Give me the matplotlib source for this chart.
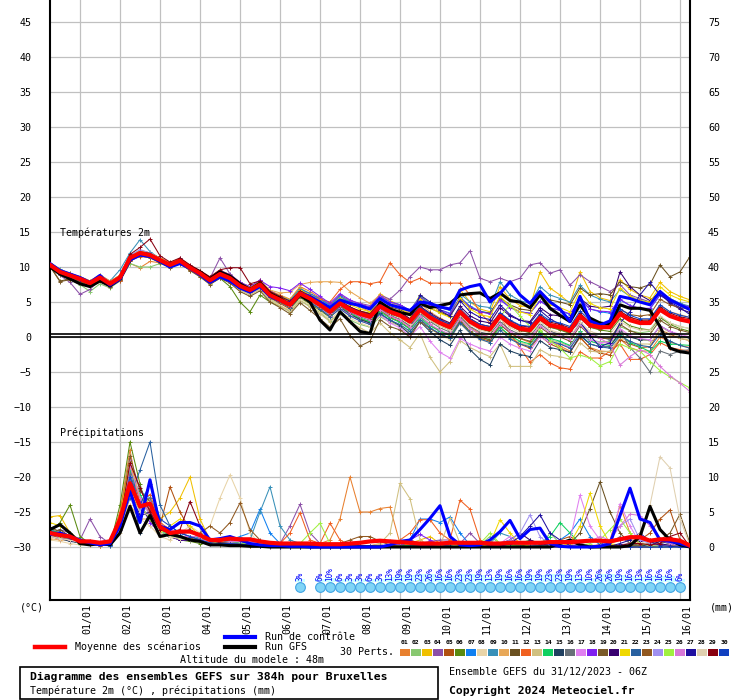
import numpy as np
import matplotlib
matplotlib.use("Agg")
import matplotlib.pyplot as plt
from matplotlib.lines import Line2D
from matplotlib.patches import Rectangle
from matplotlib.transforms import blended_transform_factory

plt.rcParams['font.family'] = ['DejaVu Sans Mono', 'DejaVu Sans']

# ---- data (6h steps from 31/12 06Z, 0..384h) ----
hours = np.arange(0, 385, 6)
DATES = ["01/01", "02/01", "03/01", "04/01", "05/01", "06/01", "07/01", "08/01",
         "09/01", "10/01", "11/01", "12/01", "13/01", "14/01", "15/01", "16/01"]
day_hours = [18 + 24 * k for k in range(16)]

COLORS = ["#e8802f", "#88c870", "#f0c000", "#8c50a8", "#b05010", "#5a8a10", "#1080f0",
          "#e8d4a8", "#3890b8", "#e8a858", "#6a5020", "#f06020", "#d0c080", "#10d060",
          "#204060", "#687078", "#e080f0", "#8020f0", "#7a5a28", "#380070", "#f0d800",
          "#2860a0", "#905820", "#a090f0", "#a0f040", "#d878d8", "#2010a0", "#e0d0b0",
          "#880010", "#1040c0"]

# temperatures 2m (°C), perturbations 01..30
temp_members = [
    [10.6,9.6,9.1,8.6,8.0,8.8,7.9,8.8, 10.5,9.9,10.8,10.6,10.0,10.6,9.6,8.8, 8.6,9.5,8.9,7.8,7.2,8.0,6.6,6.0, 5.4,7.2,6.5,5.6,4.6,5.8,4.9,4.3, 3.6,5.0,4.2,3.5,2.6,4.2,3.0,2.0, 1.0,3.0,1.4,0.5,0.0,1.8,0.6,-0.2, -0.8,0.8,-0.6,-1.3,-2.0,-0.1,-1.5,-2.0, -2.1,-0.3,-1.5,-2.0,-2.0,0.0,-0.7,-1.2, -1.5],
    [10.1,8.9,8.2,7.5,6.5,7.6,7.0,8.0, 10.5,10.0,10.0,10.5,10.0,10.6,9.6,8.8, 7.9,8.9,8.2,7.0,6.2,7.0,5.4,4.5, 3.6,5.2,4.4,3.5,2.3,3.4,2.4,1.8, 1.4,2.9,2.1,1.6,0.6,2.5,1.6,0.9, 0.4,2.6,1.2,0.3,-0.2,1.4,0.0,-0.8, -1.2,0.5,-0.4,-0.8,-1.3,0.8,-0.4,-0.7, -0.6,1.5,0.9,0.6,0.8,2.8,2.0,1.5, 1.2],
    [10.5,9.6,9.0,8.6,8.0,8.8,7.9,8.8, 11.6,12.4,12.0,11.2,10.5,11.2,10.1,9.3, 8.5,9.5,8.9,7.8,7.0,8.1,6.5,5.9, 5.3,7.0,6.2,5.4,4.6,6.0,5.0,4.4, 4.0,6.2,5.2,4.5,3.5,6.0,4.6,3.6, 3.0,6.8,5.0,4.0,3.6,7.2,5.4,4.5, 4.2,9.3,7.0,6.0,4.8,9.3,6.5,5.6, 5.2,8.2,6.8,6.0,5.6,7.8,6.5,5.8, 5.3],
    [10.0,8.8,7.8,6.1,6.8,8.2,7.2,8.0, 11.0,11.8,11.5,10.8,10.0,11.3,10.0,9.2, 8.4,11.3,9.0,7.8,7.0,8.2,6.6,5.8, 5.0,6.8,6.2,5.5,4.6,6.0,5.2,4.8, 4.5,6.0,5.4,6.7,8.6,10.0,9.6,9.6, 10.3,10.6,12.3,8.4,7.9,8.4,7.9,8.4, 10.3,10.6,9.1,9.6,7.4,8.9,7.9,7.2, 6.5,7.5,6.0,5.5,5.0,6.5,5.5,4.8, 4.2],
    [10.2,9.0,8.6,8.0,7.5,8.3,7.4,8.2, 11.0,11.6,11.5,10.8,10.1,10.5,9.6,8.8, 7.8,8.6,8.1,7.0,6.3,7.2,5.6,4.8, 4.0,5.8,5.0,4.0,3.0,4.4,3.3,2.5, 2.0,3.8,2.8,2.2,1.2,3.0,1.8,0.8, 0.2,2.4,0.8,-0.2,-0.6,1.4,0.0,-1.0, -1.6,0.2,-1.0,-1.6,-2.2,0.0,-1.6,-2.3, -2.6,-0.4,-1.0,-1.5,-1.4,1.0,0.4,-0.2, -0.5],
    [10.0,9.0,8.6,8.1,7.5,8.3,7.5,8.3, 11.1,11.8,11.6,10.9,10.1,10.6,9.6,8.7, 7.6,8.4,7.2,5.0,3.6,6.0,5.0,4.4, 3.8,5.6,4.7,3.8,2.8,4.2,3.2,2.6, 2.2,3.8,3.0,2.5,1.6,3.5,2.4,1.6, 1.0,3.4,2.0,1.2,0.8,2.8,1.6,1.0, 0.6,2.4,1.4,1.0,0.5,2.8,1.4,1.0, 0.8,2.6,1.6,1.2,1.0,2.8,1.8,1.2, 0.8],
    [10.4,9.5,9.1,8.5,7.9,8.7,7.8,8.7, 11.5,12.3,12.0,11.2,10.6,11.2,10.2,9.4, 8.4,9.3,8.7,7.6,7.0,7.9,6.4,5.8, 5.2,6.9,6.2,5.4,4.5,5.8,5.0,4.5, 4.2,5.8,5.0,4.6,3.8,5.6,4.6,3.9, 3.4,5.7,4.4,3.7,3.4,5.4,4.3,3.6, 3.4,5.2,4.2,3.8,3.2,5.4,4.0,3.6, 3.4,5.3,4.5,4.0,4.0,6.0,5.2,4.6, 4.2],
    [10.2,9.2,8.6,8.0,7.4,8.2,7.3,8.1, 11.0,11.8,11.5,10.7,10.0,10.6,9.6,8.7, 7.7,8.6,7.9,6.8,6.1,6.9,5.3,4.5, 3.8,5.4,4.6,3.6,2.5,3.7,2.7,2.0, 1.5,3.1,2.2,1.6,0.6,2.4,1.2,0.3, -0.4,1.9,0.5,-0.4,-0.8,1.2,0.0,-0.8, -1.2,0.6,-0.5,-0.9,-1.5,0.8,-0.6,-1.0, -1.0,1.0,0.1,-0.4,-0.5,1.5,0.6,0.0, -0.4],
    [10.6,9.7,9.0,8.5,7.9,8.8,8.0,9.6, 12.0,13.9,12.2,11.2,10.4,11.0,10.0,9.3, 8.3,9.2,8.6,7.5,6.9,7.8,6.3,5.6, 5.0,6.7,6.0,5.2,4.3,5.7,4.8,4.3, 4.0,5.9,5.0,4.6,3.8,5.8,4.8,4.2, 3.8,6.2,5.0,4.4,4.2,7.9,6.0,5.2, 4.8,7.2,6.0,5.5,5.0,7.4,6.0,5.4, 5.0,6.8,5.8,5.2,5.0,6.5,5.5,4.8, 4.4],
    [10.4,9.4,9.0,8.6,8.0,8.9,8.0,8.8, 11.5,12.1,11.8,11.1,10.5,11.0,10.0,9.3, 8.4,9.3,8.7,7.7,7.1,8.0,6.7,6.3, 6.4,7.5,7.8,7.9,7.9,7.8,6.5,5.6, 4.8,6.0,5.0,4.3,3.3,4.8,3.6,2.7, 2.0,4.0,2.6,1.8,1.4,3.3,2.0,1.3, 1.0,2.8,1.8,1.5,1.0,3.2,2.0,1.6, 1.6,3.6,2.8,2.4,2.5,4.5,3.6,3.2, 2.8],
    [10.1,8.0,8.3,8.0,7.6,8.4,7.5,8.4, 11.2,11.9,11.5,10.8,10.1,10.8,9.8,9.0, 8.0,8.9,8.3,7.2,6.6,7.4,5.9,5.2, 4.5,6.2,5.5,4.7,3.7,5.0,4.2,3.7, 3.4,5.0,4.3,3.9,3.2,5.0,4.1,3.5, 3.0,5.4,4.2,3.6,3.4,5.6,4.6,4.0, 3.8,6.2,5.3,5.0,4.6,7.0,6.0,6.2, 6.0,7.9,7.2,7.0,7.5,10.3,8.6,9.3, 11.5],
    [10.3,9.4,8.8,8.4,7.8,8.6,7.7,8.0, 10.9,11.5,11.4,10.8,10.2,10.8,9.8,9.0, 8.0,8.9,8.3,7.2,6.6,7.5,6.1,5.4, 4.8,6.5,5.8,5.4,5.0,6.8,7.9,7.9, 7.6,7.9,10.6,8.9,7.8,8.4,7.7,7.7, 7.7,7.7,6.0,3.5,2.0,3.0,0.5,-1.5, -3.6,-2.5,-3.7,-4.4,-4.6,-2.1,-3.0,-3.0, -2.0,-1.0,-3.2,-3.2,-2.5,-0.8,-1.5,-1.8, -2.0],
    [10.2,9.2,8.7,8.2,7.6,8.3,7.4,8.3, 11.0,11.7,11.4,10.7,10.0,10.5,9.5,8.6, 7.6,8.5,7.8,6.7,6.0,6.8,5.2,4.4, 3.6,5.2,4.3,3.3,2.2,3.4,2.2,1.3, 0.6,2.0,0.6,-0.4,-1.5,0.5,-2.9,-5.0, -3.5,-0.5,-1.5,-2.2,-2.8,-1.0,-4.2,-4.2, -4.2,-1.8,-2.6,-2.8,-3.2,-0.8,-2.0,-2.2, -2.0,0.0,-0.8,-1.0,-1.0,1.0,0.2,-0.2, -0.5],
    [10.3,9.3,8.9,8.4,7.8,8.6,7.7,8.6, 11.4,12.1,11.8,11.1,10.4,11.0,10.0,9.2, 8.2,9.1,8.5,7.4,6.8,7.6,6.1,5.3, 4.5,6.0,5.2,4.2,3.2,4.4,3.4,2.7, 2.2,3.6,2.7,2.1,1.1,2.8,1.6,0.8, 0.2,2.2,0.8,0.0,-0.4,1.4,0.2,-0.6, -1.0,0.8,-0.2,-0.6,-1.2,0.8,-0.6,-1.0, -1.2,0.4,-0.8,-1.4,-2.1,-0.6,-1.0,-1.1, -1.2],
    [10.2,9.2,8.6,8.1,7.5,8.3,7.4,8.3, 11.1,11.8,11.5,10.8,10.1,10.7,9.7,8.9, 7.9,8.8,8.1,7.0,6.4,7.2,5.7,5.0, 4.2,5.8,5.0,4.0,3.0,4.2,3.2,2.5, 2.0,3.4,2.4,1.6,0.4,2.2,0.8,-0.4, -1.2,1.0,-1.8,-3.2,-4.0,-1.0,-2.0,-2.5, -2.8,-0.5,-1.5,-1.8,-2.2,0.2,-1.0,-1.4, -1.4,0.8,0.0,-0.4,-0.4,1.6,0.8,0.2, -0.2],
    [10.4,9.4,8.9,8.3,7.7,8.5,7.6,8.6, 11.4,12.1,11.8,11.1,10.4,11.0,10.0,9.2, 8.1,9.0,8.4,7.3,6.6,7.4,5.9,5.2, 4.4,6.0,5.3,4.3,3.3,4.5,3.5,2.9, 2.4,4.0,3.1,2.5,1.5,3.3,2.2,1.3, 0.7,2.9,1.5,0.7,0.4,2.2,1.0,0.4, 0.1,1.9,0.8,0.4,-0.2,2.0,0.5,0.0, -0.4,1.0,-1.5,-3.0,-5.0,-2.0,-2.5,-2.0, -1.8],
    [10.3,9.2,8.7,8.2,7.6,8.4,7.5,8.4, 11.2,12.0,11.6,10.9,10.2,10.8,9.8,9.0, 8.0,8.9,8.2,7.1,6.5,7.3,5.8,5.0, 4.3,5.9,5.1,4.1,3.0,4.1,3.1,2.3, 1.8,3.2,2.0,1.3,0.1,1.5,-0.6,-2.2, -3.0,-0.2,-1.0,-1.6,-2.0,0.0,-1.0,-1.6, -2.0,0.0,-0.8,-1.0,-1.4,0.6,-0.4,-0.8, -0.8,1.2,0.2,-0.2,-0.4,1.6,0.8,0.4, 0.0],
    [10.5,9.5,9.0,8.5,7.9,8.8,7.9,8.8, 11.6,12.3,12.0,11.3,10.6,11.2,10.2,9.4, 8.5,9.5,8.9,7.8,7.2,8.1,7.2,7.0, 6.6,7.7,6.8,5.8,4.8,6.2,5.3,4.7, 4.3,5.9,5.0,4.6,3.8,5.6,4.6,3.9, 3.3,5.6,4.3,3.6,3.3,5.3,4.2,3.6, 3.4,5.1,4.2,3.8,3.3,5.4,4.0,3.7, 3.6,5.4,4.5,4.1,4.1,6.0,5.1,4.6, 4.3],
    [10.1,7.9,8.2,7.9,7.3,8.1,7.2,8.1, 10.9,11.6,11.3,10.6,9.9,10.5,9.5,8.6, 7.5,8.4,7.7,6.5,5.8,6.6,5.0,4.2, 3.3,4.9,3.8,2.6,1.4,2.6,0.2,-1.3, -0.6,2.5,1.5,1.0,0.0,2.2,1.2,0.4, -0.2,2.2,0.8,0.0,-0.4,1.8,0.6,-0.2, -0.6,1.4,0.4,0.0,-0.6,1.6,0.2,-0.2, -0.2,1.8,0.9,0.4,0.4,2.4,1.5,1.0, 0.6],
    [10.3,9.4,8.9,8.4,7.8,8.6,7.7,8.6, 11.3,12.0,11.7,11.0,10.4,10.9,9.9,9.1, 8.1,9.0,8.4,7.3,6.7,7.5,6.0,5.3, 4.6,6.3,5.6,4.7,3.8,5.1,4.2,3.6, 3.2,4.8,4.0,3.5,2.6,4.4,3.4,2.6, 2.0,4.4,3.0,2.3,2.0,4.2,3.0,2.4, 2.2,4.2,3.2,3.0,2.8,5.5,4.4,4.2, 4.4,9.3,7.2,6.0,5.2,6.4,4.8,4.0, 3.5],
    [10.6,9.6,9.1,8.6,8.0,8.8,7.9,8.8, 11.6,12.3,12.0,11.3,10.6,11.2,10.2,9.4, 8.4,9.3,8.7,7.6,7.0,7.9,6.4,5.7, 5.0,6.7,6.0,5.2,4.2,5.6,4.6,4.0, 3.6,5.6,4.6,4.1,3.2,5.4,4.2,3.4, 2.8,5.6,4.0,3.2,2.9,5.8,4.4,3.6, 3.2,6.0,4.6,4.2,3.6,6.6,4.8,4.2, 4.0,7.0,5.8,5.2,5.0,7.2,6.0,5.4, 5.0],
    [10.2,9.1,8.7,8.2,7.6,8.4,7.5,8.4, 11.2,11.9,11.6,10.9,10.2,10.8,9.8,9.0, 8.0,8.9,8.3,7.2,6.5,7.3,5.8,5.0, 4.2,5.8,5.0,4.0,2.9,4.0,3.0,2.3, 1.8,3.3,2.4,1.8,0.8,2.5,1.3,0.5, -0.2,2.0,0.6,-0.3,-0.8,1.0,-0.3,-1.0, -1.4,0.4,-0.6,-1.0,-1.6,0.4,-1.0,-1.4, -1.6,0.2,-0.6,-1.2,-1.4,0.4,-0.6,-1.2, -1.6],
    [10.0,9.0,8.5,8.0,7.4,8.2,7.3,8.2, 11.0,11.7,11.4,10.7,10.0,10.6,9.6,8.8, 7.8,8.7,8.1,7.0,6.4,7.2,5.7,5.0, 4.3,5.9,5.2,4.3,3.3,4.5,3.6,3.0, 2.6,4.1,3.3,2.8,1.9,3.6,2.5,1.7, 1.1,3.3,1.9,1.1,0.8,2.7,1.6,0.9, 0.7,2.4,1.4,1.1,0.6,2.7,1.4,1.1, 1.4,4.0,3.2,3.0,3.2,5.4,4.6,4.2, 4.0],
    [10.4,9.4,8.9,8.4,7.8,8.6,7.7,8.6, 11.6,12.5,12.0,11.2,10.5,11.1,10.1,9.3, 8.3,9.2,8.6,7.5,6.9,7.7,6.2,5.5, 4.8,6.4,5.7,4.8,3.8,5.0,4.1,3.5, 3.1,4.6,3.8,3.3,2.4,4.1,3.0,2.2, 1.6,3.8,2.4,1.6,1.3,3.2,2.1,1.4, 1.2,2.9,1.9,1.6,1.1,3.2,1.9,1.6, 1.6,3.5,2.6,2.2,2.2,4.1,3.2,2.7, 2.4],
    [10.3,9.3,8.8,8.3,7.7,8.5,7.6,8.5, 11.2,11.9,11.6,10.9,10.2,10.8,9.8,9.0, 8.0,8.9,8.3,7.2,6.6,7.4,5.9,5.2, 4.5,6.1,5.4,4.5,3.5,4.7,3.8,3.2, 2.8,4.3,3.5,3.0,2.1,3.8,2.7,1.9, 1.3,3.5,2.1,1.3,1.0,2.9,4.6,3.0, 1.5,1.0,-0.5,-1.6,-3.0,-2.6,-3.0,-4.1, -3.5,-1.0,-1.6,-2.0,-3.5,-4.8,-5.7,-6.5, -7.3],
    [10.2,9.2,8.7,8.2,7.6,8.4,7.5,8.4, 11.4,12.2,11.8,11.1,10.3,10.9,9.9,9.1, 8.1,9.0,8.4,7.3,6.7,7.5,6.0,5.3, 4.5,6.1,5.4,4.4,3.4,4.6,3.6,3.0, 2.5,3.9,3.0,2.4,1.4,3.0,1.8,1.0, 0.4,2.6,1.2,0.4,0.0,1.9,0.8,0.1, -0.2,1.6,0.6,0.2,-0.3,1.8,0.4,-0.2, -1.0,-4.0,-2.8,-1.8,-2.5,-4.2,-5.5,-6.6, -7.8],
    [10.3,9.3,8.8,8.2,7.6,8.4,7.5,8.4, 11.3,12.0,11.7,11.0,10.3,10.9,9.9,9.1, 8.1,9.0,8.4,7.3,6.7,7.5,6.0,5.3, 4.6,6.2,5.5,4.6,3.6,4.8,3.9,3.3, 2.9,4.4,3.6,3.1,2.2,6.0,5.0,3.8, 3.0,5.2,3.6,2.8,2.5,4.6,3.2,2.4, 2.0,3.8,2.6,1.8,0.8,2.2,0.2,-1.4, -0.8,2.0,3.6,6.0,7.8,6.0,5.0,4.2, 3.2],
    [10.4,9.4,9.0,8.5,8.0,8.8,7.8,8.7, 11.4,12.1,11.8,11.1,10.4,11.0,10.0,9.2, 8.2,9.1,8.5,7.4,6.8,7.6,6.1,5.4, 4.7,6.3,5.6,4.7,3.7,4.9,4.0,3.4, 3.0,4.4,3.5,2.9,1.9,3.6,2.4,1.6, 1.0,3.2,1.8,1.0,0.6,2.6,1.4,0.6, 0.4,2.2,1.0,0.6,0.0,2.2,0.8,0.4, 0.4,2.2,1.4,1.0,1.0,3.0,2.0,1.5, 1.2],
    [10.5,9.5,9.0,8.5,7.9,8.7,7.8,8.7, 11.8,12.8,14.0,11.6,10.7,11.3,10.3,9.5, 8.6,9.6,9.9,9.9,7.6,8.0,6.5,5.8, 5.1,6.6,5.9,5.0,4.0,5.2,4.3,3.7, 3.3,4.8,4.0,3.5,2.6,4.3,3.2,2.4, 1.8,4.0,2.6,1.8,1.5,3.4,2.3,1.6, 1.4,3.1,2.1,1.8,1.3,3.4,2.1,1.8, 1.8,3.7,2.8,2.4,2.4,4.3,3.4,2.9, 2.6],
    [10.4,9.4,8.9,8.4,7.8,8.6,7.7,8.6, 11.4,12.1,11.8,11.1,10.4,11.0,10.0,9.2, 8.2,9.1,8.5,7.4,6.8,7.6,6.1,5.4, 4.7,6.3,5.6,4.7,3.7,5.0,4.1,3.5, 3.1,4.7,3.9,3.4,2.5,4.3,3.2,2.4, 1.8,4.0,2.6,1.8,1.5,3.5,2.4,1.7, 1.5,3.3,2.3,2.0,1.5,3.7,2.4,2.0, 2.0,4.0,3.1,2.6,2.6,4.6,3.6,3.1, 2.8],
]
temp_mean = [10.3,9.3,8.8,8.3,7.7,8.5,7.6,8.5, 11.3,12.0,11.7,11.0,10.3,10.9,9.9,9.1, 8.1,9.0,8.4,7.3,6.7,7.5,6.0,5.3,
             4.6,6.2,5.5,4.6,3.6,4.8,3.9,3.3, 2.9,4.4,3.6,3.1,2.2,3.9,2.8,2.0, 1.4,3.6,2.2,1.4,1.1,3.0,1.9,1.2,
             1.0,2.7,1.7,1.4,0.9,3.0,1.7,1.4, 1.4,3.3,2.4,2.0,2.0,3.9,3.0,2.5, 2.2]
temp_gfs = [10.0,9.0,8.3,7.6,7.2,8.0,7.3,8.3, 11.0,12.0,11.8,10.8,10.2,11.0,10.0,9.3, 8.3,9.3,8.7,7.6,6.8,7.7,6.2,5.5,
            4.6,6.0,5.0,2.4,1.0,3.6,2.2,0.8, 0.5,5.0,4.0,3.5,3.2,4.8,4.2,4.5, 4.8,6.0,6.2,6.3,5.5,6.3,5.2,5.0,
            4.2,6.0,4.1,3.1,2.2,4.6,2.7,2.0, 1.8,4.6,4.1,4.1,3.8,1.5,-1.6,-2.1, -2.3]
temp_ctrl = [10.5,9.5,9.0,8.5,7.8,8.8,7.4,8.3, 11.0,11.7,11.5,10.8,10.0,10.5,9.8,8.9, 7.8,8.6,8.0,7.0,6.4,7.2,5.8,5.2,
             4.8,6.2,5.8,5.0,4.2,5.3,4.8,4.5, 4.0,5.5,4.6,4.2,3.8,5.0,4.8,4.3, 4.0,6.7,7.2,7.5,5.0,6.2,7.9,6.0,
             4.8,6.5,5.0,4.0,2.2,5.8,2.3,1.7, 2.3,5.8,5.5,5.0,4.6,6.5,5.3,4.6, 3.9]

# precipitation (mm / 6h), perturbations 01..30
precip_members = [
    [2.0,1.5,1.0,0.5,0.3,0.2,0.5,5.0,13.9,6.0,4.0,2.0,1.5,1.0,1.2,1.0,0.5,0.3,0.5,0.3,0.2, 0.1,0.1,0.0,0.0,0.2,0.3,0.5,1.0,4.0,10.0,5.0, 5.0,5.5,5.7,0.5,0.2,0.1,0.0,0.0,0.1,0.2,0.1, 0.0,0.0,0.1,0.2,0.1,0.0,0.0,0.1,0.1,0.2,0.3, 0.2,0.3,1.0,5.9,2.0,0.3,0.2,0.1,0.2,0.1,0.0],
    [1.5,1.2,1.0,0.5,0.5,0.5,0.8,4.0,9.0,6.0,5.0,2.5,2.0,1.5,1.5,1.0,0.8,0.5,1.0,0.5,0.3, 0.2,0.2,0.1,0.1,0.0,0.0,0.0,0.1,0.1,0.0,0.0, 0.0,0.1,0.2,0.1,0.0,0.0,0.0,0.0,0.1,0.0,0.0, 0.3,1.5,0.5,0.2,0.0,0.0,0.0,2.0,0.5,0.1,0.0, 0.0,0.1,0.2,0.3,0.2,0.1,0.1,0.0,0.0,0.1,0.0],
    [4.3,4.5,2.0,1.0,0.5,0.5,0.5,3.5,8.0,5.0,7.0,4.0,5.0,7.0,10.0,4.0,1.0,0.8,0.5,0.5,0.2, 0.2,0.1,0.1,0.0,0.0,0.1,0.1,0.0,0.0,0.0,0.0, 0.1,0.2,0.1,0.0,0.5,1.0,1.5,0.5,0.0,0.0,0.0, 0.0,0.1,0.2,0.1,0.0,0.0,0.0,0.0,0.1,0.2,0.5, 1.0,0.5,0.2,0.1,0.0,0.0,0.1,0.2,0.1,0.0,0.0],
    [1.8,2.5,2.0,1.0,4.0,1.5,0.5,3.0,10.0,7.0,5.0,2.0,1.5,1.0,1.0,1.2,0.5,0.5,0.8,0.4,1.0, 0.5,0.2,0.5,3.0,6.1,2.0,0.5,0.2,0.1,0.0,0.0, 0.0,0.1,0.1,0.0,0.2,0.5,0.8,1.0,1.0,0.5,2.0, 0.5,0.2,0.3,1.0,0.3,0.0,0.0,0.1,0.0,0.0,0.1, 0.2,0.1,0.0,0.3,0.5,0.2,0.0,0.0,0.1,0.0,0.0],
    [2.5,2.0,1.0,0.5,0.3,0.2,0.3,3.0,11.0,7.0,6.0,3.0,8.6,5.0,2.5,1.5,0.8,0.5,0.5,0.3,0.2, 0.1,0.0,0.0,0.0,0.1,0.0,0.0,0.0,0.1,0.2,0.1, 0.0,0.0,0.0,0.1,0.2,0.1,0.0,0.0,0.0,0.0,0.0, 0.0,0.1,0.1,0.0,0.0,0.0,0.2,0.5,1.0,1.5,0.5, 0.2,0.1,0.0,0.1,0.3,1.0,2.0,4.0,5.3,1.0,0.0],
    [2.0,3.5,6.0,1.5,0.5,0.3,0.2,6.0,15.0,9.0,4.0,2.0,1.5,1.0,0.8,0.5,0.5,0.3,0.5,0.5,0.3, 0.2,0.1,0.0,0.0,0.0,0.1,0.2,0.1,0.0,0.0,0.0, 0.0,0.0,0.1,0.0,0.0,0.0,0.2,0.3,0.1,0.0,0.0, 0.0,0.0,0.0,0.1,0.2,0.1,0.0,0.0,0.0,0.0,0.1, 0.2,0.0,0.0,0.0,0.1,0.2,0.1,0.0,0.0,0.0,0.0],
    [2.2,1.8,1.2,0.8,0.5,0.3,0.2,4.5,12.0,5.0,6.0,3.0,2.0,1.5,2.5,1.5,1.0,0.5,1.0,1.5,2.0, 5.4,2.0,0.5,0.2,0.1,0.0,0.0,0.1,0.2,0.1,0.0, 0.0,0.1,0.0,0.0,1.0,4.0,4.0,3.5,4.3,2.0,0.3, 0.0,0.0,0.1,0.0,0.0,0.2,0.5,0.3,1.0,2.0,4.0, 1.5,0.3,0.2,0.1,0.0,0.1,0.2,0.1,0.0,0.0,0.0],
    [1.0,0.8,0.5,0.3,0.3,0.3,0.3,2.0,7.0,4.0,3.0,1.5,1.0,2.0,3.0,2.0,3.0,7.0,10.3,7.0,2.0, 0.5,0.3,0.1,0.0,0.0,0.0,0.1,0.2,0.1,0.0,0.0, 0.0,0.0,0.0,0.1,0.0,0.0,0.0,0.0,0.2,0.1,0.0, 0.0,0.0,0.0,0.0,0.1,0.1,0.0,0.0,0.0,0.2,0.3, 0.1,0.0,0.0,0.1,0.2,0.5,1.0,0.5,0.2,0.0,0.0],
    [2.5,2.0,1.5,1.0,0.8,0.5,0.5,4.0,10.0,8.0,7.0,3.0,2.0,1.5,1.0,1.5,1.0,1.0,0.8,0.5,1.0, 5.0,8.6,3.0,1.0,0.5,0.2,0.1,0.0,0.0,0.1,0.2, 0.1,0.0,0.0,0.0,0.2,0.5,0.3,0.2,0.1,0.0,0.0, 0.0,0.5,2.0,1.5,0.5,0.2,0.0,0.0,0.1,0.0,0.0, 0.0,0.1,0.2,0.1,0.0,0.0,0.0,0.1,0.1,0.0,0.0],
    [1.2,1.0,1.0,0.8,0.6,0.5,0.5,2.5,6.0,4.0,4.0,2.0,1.5,1.2,1.0,1.0,0.6,0.5,0.5,0.5,0.5, 0.3,0.2,0.1,0.1,0.0,0.0,0.0,0.0,0.1,0.2,0.1, 0.2,0.5,0.8,0.5,1.0,0.5,0.2,0.1,0.0,0.0,0.1, 0.1,0.0,0.0,0.0,0.0,0.1,0.2,0.1,0.0,0.0,0.0, 0.0,0.2,0.5,1.0,1.5,0.5,0.2,0.5,1.0,0.5,0.0],
    [2.0,2.5,1.5,1.0,0.5,0.3,0.3,3.0,8.0,4.5,5.0,2.0,1.5,2.0,2.5,1.5,0.5,0.5,0.5,0.3,0.3, 0.2,0.1,0.0,0.0,0.0,0.0,0.1,0.0,0.0,0.0,0.0, 0.0,0.0,0.1,0.2,0.1,0.0,0.0,0.0,0.0,0.0,0.1, 0.0,0.0,0.0,0.0,0.1,0.2,0.1,0.0,0.0,0.5,2.0, 5.5,9.3,5.0,2.0,0.5,0.2,0.1,0.0,0.0,0.0,0.0],
    [1.5,1.2,1.0,0.5,0.5,0.3,0.3,5.0,12.0,6.5,7.5,3.5,2.5,1.5,1.0,0.8,0.6,0.5,0.5,0.5,0.5, 0.5,0.3,0.5,2.0,4.9,1.0,0.5,3.4,1.0,0.2,0.1, 0.0,0.1,0.3,1.0,2.0,3.9,3.9,2.0,1.0,6.7,5.4, 1.0,0.2,0.1,0.0,0.0,0.1,0.0,0.0,0.1,0.0,0.0, 0.1,0.2,0.1,0.0,0.0,0.1,0.0,0.0,0.0,0.1,0.0],
    [1.8,1.5,1.2,0.8,0.5,0.5,0.5,3.5,9.5,5.5,6.0,2.5,1.5,1.5,1.0,1.0,0.5,0.5,0.5,0.3,0.3, 0.2,0.1,0.0,0.0,0.0,0.1,0.1,0.0,0.0,0.0,0.0, 0.1,0.5,2.0,9.1,6.9,1.0,0.2,0.1,4.1,0.5,0.1, 0.0,0.0,0.0,0.1,0.0,0.0,0.0,0.0,0.0,0.1,0.1, 0.0,0.0,0.0,0.1,0.2,0.1,0.0,0.0,0.0,0.0,0.0],
    [2.3,2.0,1.0,0.5,0.4,0.3,0.3,4.0,11.0,7.5,5.0,2.0,2.0,1.5,1.5,1.0,0.6,0.5,0.8,0.5,0.3, 0.2,0.1,0.0,0.0,0.1,0.0,0.0,0.0,0.1,0.1,0.0, 0.0,0.0,0.0,0.1,0.2,0.1,0.0,0.0,0.0,0.1,0.0, 0.0,0.0,0.1,0.2,0.5,1.0,0.5,1.5,3.5,2.0,0.5, 0.1,0.0,0.0,0.1,0.2,0.1,0.0,0.0,0.1,0.0,0.0],
    [1.5,1.2,0.8,0.6,0.5,0.5,0.4,2.5,9.0,2.0,5.0,2.0,1.5,1.0,1.0,0.8,0.5,0.5,0.5,0.3,0.3, 0.1,0.1,0.0,0.0,0.0,0.0,0.0,0.1,0.0,0.0,0.0, 0.0,0.0,0.0,0.0,0.1,0.0,0.0,0.0,0.0,0.0,0.0, 0.1,0.2,0.1,0.0,0.0,0.0,0.0,0.0,0.0,0.1,0.2, 0.1,0.0,0.0,0.0,0.0,0.1,0.3,0.8,0.5,0.1,0.0],
    [2.0,1.8,1.2,0.8,0.5,0.3,0.3,3.5,10.5,6.0,7.0,2.5,2.0,1.5,1.0,1.0,0.5,0.5,0.5,0.5,0.3, 0.2,0.1,0.1,0.0,0.0,0.0,0.0,0.0,0.0,0.1,0.2, 0.2,0.1,0.0,0.5,1.0,0.5,0.2,0.0,0.0,0.0,0.0, 0.0,0.1,0.0,0.0,0.0,0.0,0.1,0.2,0.1,0.0,0.0, 0.0,0.2,0.5,1.5,0.5,0.1,0.0,0.2,0.5,1.0,0.0],
    [1.8,1.5,1.0,0.8,0.6,0.5,0.5,3.0,12.5,7.0,4.5,2.5,2.5,2.0,1.5,1.0,0.8,0.5,0.6,0.5,0.5, 0.3,0.2,0.1,0.1,0.0,0.0,0.1,0.0,0.0,0.0,0.0, 0.0,0.1,0.2,0.1,0.0,0.0,0.0,0.1,0.0,0.0,0.0, 0.0,0.2,0.5,1.5,0.5,0.2,0.1,0.0,0.0,1.0,7.4, 3.0,1.0,0.5,6.2,3.0,0.5,0.2,0.1,0.0,0.0,0.0],
    [2.0,1.5,1.0,0.6,0.5,0.4,0.3,2.5,8.5,6.5,3.5,2.0,1.5,1.0,1.0,0.8,0.6,0.5,0.5,0.3,0.3, 0.2,0.1,0.0,0.0,0.1,0.2,0.1,0.0,0.0,0.0,0.1, 0.1,0.0,0.2,0.5,1.0,1.8,1.0,0.3,0.1,0.0,0.0, 0.2,0.5,0.2,0.1,0.0,0.0,0.1,0.0,0.0,0.0,0.0, 0.0,0.1,0.2,0.1,0.0,0.0,0.1,0.0,0.0,0.1,0.0],
    [2.8,2.2,1.5,0.8,0.5,0.3,0.3,4.0,13.0,8.0,6.5,3.0,2.0,1.5,1.2,0.8,0.6,0.5,0.5,0.5,0.3, 0.2,0.1,0.1,0.0,0.0,0.0,0.0,0.0,0.1,0.0,0.0, 0.0,0.0,0.1,0.0,0.0,0.0,0.0,0.1,0.1,0.0,0.0, 0.0,0.0,0.0,0.1,0.0,0.0,0.0,0.1,0.2,0.1,0.0, 0.0,0.1,0.0,0.0,0.2,0.3,0.5,1.0,2.0,4.7,0.5],
    [1.5,1.3,1.0,0.6,0.5,0.5,0.3,3.0,9.0,5.5,4.0,3.0,2.0,1.0,1.0,0.8,0.5,0.5,0.5,0.3,0.3, 0.1,0.0,0.0,0.0,0.0,0.1,0.0,0.0,0.0,0.0,0.0, 0.0,0.0,0.0,0.0,0.1,0.2,0.1,0.0,0.0,0.0,0.0, 0.0,0.2,0.5,1.0,2.0,1.0,0.5,0.2,0.0,0.0,0.0, 0.1,0.3,1.0,1.2,1.0,0.8,1.0,0.5,0.2,0.0,0.0],
    [3.5,3.0,2.0,1.0,0.5,0.3,0.3,4.5,12.0,7.0,5.0,2.0,3.0,4.0,3.0,1.5,0.8,0.5,0.5,0.5,0.3, 0.2,0.1,0.0,0.0,0.0,0.0,0.0,0.1,0.0,0.0,0.0, 0.0,0.0,0.1,0.0,0.0,0.0,0.0,0.2,0.5,0.2,0.0, 0.0,0.5,3.9,2.0,0.5,0.1,0.0,0.0,0.1,0.5,3.0, 7.7,3.0,0.5,0.2,0.1,0.0,0.0,0.0,0.1,0.0,0.0],
    [2.0,1.8,1.2,0.8,0.5,0.4,0.4,3.5,7.0,11.0,15.0,6.0,3.0,2.0,1.5,1.0,0.5,0.5,0.5,0.5,0.3, 0.2,0.1,0.1,0.0,0.0,0.0,0.0,0.0,0.0,0.0,0.1, 0.2,0.1,0.0,0.0,0.0,0.0,0.0,0.0,0.0,0.1,0.0, 0.0,0.0,0.0,0.0,0.0,0.1,0.2,0.1,0.0,0.0,0.0, 0.0,0.0,0.1,0.2,0.1,0.0,0.0,0.0,0.0,0.0,0.0],
    [1.6,1.4,1.0,0.8,0.5,0.5,0.5,3.0,9.5,6.0,5.5,2.5,2.0,1.5,1.0,2.0,3.0,2.0,3.5,6.3,2.5, 1.0,0.5,0.2,0.1,0.0,0.0,0.1,0.2,0.5,1.0,1.5, 1.5,0.8,0.3,0.1,0.0,0.0,0.0,0.0,0.1,0.0,0.0, 0.0,0.0,0.1,0.0,0.0,0.0,0.0,0.1,0.0,0.0,0.0, 0.0,0.1,0.2,0.1,0.0,0.0,0.0,0.1,0.0,0.0,0.0],
    [1.8,1.5,1.2,0.8,0.5,0.4,0.3,3.5,10.0,5.5,6.5,3.0,2.0,1.5,1.0,0.8,0.5,0.5,0.5,0.5,0.3, 0.2,0.1,0.0,0.0,0.0,0.0,0.0,0.0,0.1,0.1,0.0, 0.0,0.0,0.0,0.1,0.0,0.0,0.0,0.0,0.0,0.0,0.0, 0.2,0.5,0.5,1.0,2.0,4.6,1.5,0.3,0.1,0.0,0.0, 0.0,0.2,1.0,3.0,4.0,1.0,0.5,0.2,0.1,0.0,0.0],
    [2.0,1.5,1.2,1.0,0.5,0.5,0.5,3.5,8.5,6.0,4.0,2.0,1.5,1.2,1.0,0.8,0.5,0.5,0.5,0.5,0.5, 0.3,0.2,0.1,0.1,0.5,2.0,3.4,0.5,0.2,0.1,0.0, 0.0,0.0,0.0,0.1,0.0,0.0,0.0,0.0,0.1,0.0,0.0, 0.5,2.0,0.5,0.2,0.0,0.0,0.0,0.1,0.0,0.0,0.2, 0.5,1.0,2.5,4.0,2.0,0.5,0.2,0.1,0.0,0.0,0.0],
    [1.5,1.2,1.0,0.8,0.8,0.8,1.0,3.0,11.5,7.0,5.0,2.5,2.0,1.5,1.5,1.5,1.2,1.0,0.8,0.8,0.8, 0.5,0.5,0.3,0.2,0.1,0.0,0.0,0.0,0.1,0.0,0.0, 0.0,0.0,0.0,0.0,0.1,0.0,0.0,0.0,0.0,0.1,0.0, 0.0,0.0,0.0,0.1,0.0,0.0,0.0,0.0,0.1,0.2,0.5, 0.8,1.5,1.0,3.0,4.7,4.5,3.0,1.0,0.5,0.2,0.0],
    [1.8,1.6,1.2,0.8,0.5,0.4,0.3,3.0,8.0,4.5,5.0,2.5,2.0,1.5,1.0,1.0,0.5,0.5,0.5,0.4,0.3, 0.2,0.1,0.0,0.0,0.0,0.0,0.0,0.0,0.0,0.1,0.1, 0.0,0.0,0.0,0.0,0.0,0.1,0.2,0.1,0.0,0.0,0.0, 0.0,0.0,0.1,0.5,1.5,3.0,4.6,2.0,1.0,0.2,0.0, 0.0,0.0,0.1,0.5,1.0,2.0,0.8,0.2,0.1,0.0,0.0],
    [1.5,1.2,1.0,0.6,0.5,0.4,0.3,2.5,7.5,5.0,4.5,2.0,1.5,1.2,1.0,0.8,0.5,0.5,0.5,0.3,0.3, 0.1,0.0,0.0,0.0,0.0,0.0,0.1,0.0,0.0,0.0,0.0, 0.0,0.0,0.0,0.0,0.0,0.0,0.0,0.1,0.0,0.0,0.0, 0.0,0.0,0.0,0.0,0.1,0.0,0.0,0.0,0.0,0.0,0.1, 0.2,0.1,0.0,0.1,0.5,2.0,6.0,12.9,11.3,4.0,0.2],
    [2.0,1.7,1.4,0.8,0.5,0.4,0.3,3.5,12.0,8.5,5.0,2.5,2.0,2.5,6.5,3.0,1.0,0.6,0.5,0.3,0.3, 0.2,0.1,0.0,0.0,0.0,0.0,0.0,0.0,0.1,0.0,0.0, 0.0,0.0,0.0,0.0,0.0,0.0,0.0,0.0,0.0,0.0,0.0, 0.0,0.0,0.1,0.0,0.0,0.0,0.0,0.0,0.0,0.0,0.0, 0.0,0.0,0.1,0.2,0.5,0.5,0.3,0.5,1.5,2.0,0.0],
    [2.2,2.0,1.5,1.0,0.6,0.4,0.3,4.0,10.0,6.0,9.0,4.0,3.0,2.0,1.5,1.0,0.6,0.5,0.5,0.4,0.3, 0.2,0.1,0.0,0.0,0.0,0.0,0.0,0.0,0.0,0.0,0.0, 0.0,0.0,0.0,0.0,0.0,0.0,0.0,0.1,0.1,0.0,0.0, 0.0,0.0,0.0,0.0,0.0,0.0,0.0,0.0,0.0,0.0,0.0, 0.0,0.0,0.1,0.1,0.0,0.0,0.0,0.0,0.0,0.0,0.0],
]
precip_mean = [2.0,1.7,1.5,0.8,0.8,0.6,0.8,3.9,9.1,5.8,6.2,2.9,2.0,2.2,2.2,1.7,1.0,1.0,1.2,1.1,1.1,
               0.8,0.6,0.5,0.5,0.5,0.5,0.4,0.4,0.4,0.5,0.6, 0.8,0.9,0.8,0.7,0.6,0.5,0.5,0.5,0.6,0.6,0.6,
               0.6,0.5,0.5,0.6,0.6,0.6,0.6,0.7,0.7,0.7,0.8, 0.9,0.9,0.8,1.1,1.4,1.4,0.9,1.1,1.1,0.9,0.2]
precip_gfs = [2.5,3.2,2.0,0.5,0.3,0.5,0.3,2.0,5.8,2.0,4.5,1.5,1.8,1.5,1.0,0.8,0.3,0.3,0.2,0.2,0.1,
              0.1,0.0,0.0,0.0,0.0,0.0,0.0,0.0,0.0,0.0,0.0, 0.0,0.0,0.0,0.0,0.0,0.0,0.0,0.0,0.0,0.0,0.0,
              0.0,0.0,0.0,0.0,0.0,0.0,0.0,0.0,0.5,1.0,0.3, 0.0,0.0,0.0,0.0,0.2,1.5,5.8,2.5,1.0,0.3,0.0]
precip_ctrl = [1.8,2.0,1.5,1.0,0.6,0.3,0.5,3.0,8.0,3.5,9.6,3.0,2.5,3.5,3.5,3.0,1.0,1.2,1.5,1.0,0.5,
               0.3,0.2,0.2,0.1,0.1,0.0,0.0,0.0,0.0,0.0,0.0, 0.0,0.0,0.3,0.8,1.0,2.5,4.1,5.9,1.5,0.3,0.2,
               0.3,1.0,2.2,3.8,1.2,2.5,2.7,0.5,0.1,0.0,0.0, 0.0,0.1,0.5,4.5,8.4,4.0,3.5,1.0,0.8,0.5,0.1]

# snow probability (%) at 6h steps
snow_steps = [25] + list(range(27, 64))
snow_pct = [3, 6, 10, 6, 3, 3, 6, 3, 13, 19, 19, 23, 26, 16, 16, 23, 23, 19, 13, 19, 16, 16,
            19, 19, 23, 23, 19, 13, 10, 26, 26, 19, 16, 13, 16, 16, 16, 6]

# ---- figure ----
W, H = 740, 700
def fx(x):
    return x / W
def fy(y):
    return 1 - y / H

fig = plt.figure(figsize=(7.4, 7.0), dpi=100)
ax = fig.add_axes([fx(50), 100 / H, 640 / W, 600 / H])
ax.set_xlim(0, 384)
ylo, yhi = -30 - 53 / 7, 45 + 22 / 7
ax.set_ylim(ylo, yhi)

ax.set_xticks(day_hours)
ax.set_xticklabels([])
ax.set_yticks(np.arange(-30, 50, 5))
ax.tick_params(axis='both', length=0)
ax.tick_params(axis='y', pad=13.5, labelsize=7.2)
ax.grid(True, color='#c0c0c0', lw=0.9)
ax.set_axisbelow(True)
for s in ['left', 'bottom', 'right']:
    ax.spines[s].set_linewidth(1.5)
ax.spines['top'].set_visible(False)

ax2 = ax.twinx()
ax2.set_ylim(ylo + 30, yhi + 30)
ax2.set_yticks(np.arange(0, 80, 5))
ax2.tick_params(axis='y', length=0, pad=13, labelsize=7.2)
for s in ax2.spines.values():
    s.set_visible(False)

# members
for k, c in enumerate(COLORS):
    t = temp_members[k]
    p = precip_members[k]
    ax.plot(hours[:len(t)], t, color=c, lw=0.75, marker='+', ms=3, mew=0.7, zorder=2)
    ax.plot(hours[:len(p)], np.array(p) - 30, color=c, lw=0.75, marker='+', ms=3, mew=0.7, zorder=2)

ax.axhline(0, color='black', lw=1.2, zorder=3)
ax.axhline(0.45, color='black', lw=1.2, zorder=3)

ax.plot(hours, temp_gfs, color='black', lw=2.2, zorder=4)
ax.plot(hours, np.array(precip_gfs) - 30, color='black', lw=2.2, zorder=4)
ax.plot(hours, temp_ctrl, color='#0000ff', lw=2.2, zorder=5)
ax.plot(hours, np.array(precip_ctrl) - 30, color='#0000ff', lw=2.2, zorder=5)
ax.plot(hours, temp_mean, color='#ff0000', lw=3.0, zorder=6)
ax.plot(hours, np.array(precip_mean) - 30, color='#ff0000', lw=3.0, zorder=6)

# snow row
snow_h = hours[snow_steps]
ax.bar(snow_h, [(2 + p * 0.25) / 7 for p in snow_pct], bottom=-35.0, width=6,
       color='#ccffff', zorder=1, clip_on=False)
ax.plot(snow_h, [-35.7] * len(snow_h), 'o', ms=7, mfc='#80d4f6', mec='#40a4e4', mew=0.8,
        zorder=7, clip_on=False)
for h, p in zip(snow_h, snow_pct):
    ax.text(h, -34.85, f"{p}%", rotation=90, ha='center', va='bottom', fontsize=5.5,
            color='#0000ff', zorder=8)

trans = blended_transform_factory(ax.transData, ax.transAxes)
for h, lab in zip(day_hours, DATES):
    ax.text(h + 4.2, -0.006, lab, transform=trans, rotation=90, ha='center', va='top',
            fontsize=7.2, clip_on=False)

fig.text(fx(60), fy(233), "Températures 2m", fontsize=7.2, va='center')
fig.text(fx(60), fy(433), "Précipitations", fontsize=7.2, va='center')
fig.text(fx(20), fy(607), "(°C)", fontsize=7.2, va='center')
fig.text(fx(710), fy(607), "(mm)", fontsize=7.2, va='center')

# legend
fig.add_artist(Line2D([fx(35), fx(65)], [fy(647)] * 2, color='#ff0000', lw=3.2))
fig.text(fx(75), fy(647), "Moyenne des scénarios", fontsize=7.2, va='center')
fig.add_artist(Line2D([fx(225), fx(255)], [fy(637)] * 2, color='#0000ff', lw=3.0))
fig.text(fx(265), fy(637), "Run de contrôle", fontsize=7.2, va='center')
fig.add_artist(Line2D([fx(225), fx(255)], [fy(647)] * 2, color='black', lw=3.0))
fig.text(fx(265), fy(647), "Run GFS", fontsize=7.2, va='center')
fig.text(fx(180), fy(660), "Altitude du modele : 48m", fontsize=7.2, va='center')
fig.text(fx(340), fy(652), "30 Perts.", fontsize=7.2, va='center')
for k, c in enumerate(COLORS):
    x0 = 400 + 11 * k
    fig.add_artist(Rectangle((fx(x0), fy(656)), 10 / W, 7 / H, transform=fig.transFigure,
                             facecolor=c, edgecolor='none'))
    fig.text(fx(x0 + 5), fy(643), f"{k + 1:02d}", fontsize=4.6, weight='bold',
             ha='center', va='center')

fig.add_artist(Rectangle((fx(20), fy(699)), 418 / W, 32 / H, transform=fig.transFigure,
                         fill=False, edgecolor='black', lw=1.2))
fig.text(fx(30), fy(677), "Diagramme des ensembles GEFS sur 384h pour Bruxelles",
         fontsize=8.2, weight='bold', va='center')
fig.text(fx(30), fy(691), "Température 2m (°C) , précipitations (mm)", fontsize=7.2, va='center')
fig.text(fx(449), fy(672), "Ensemble GEFS du 31/12/2023 - 06Z", fontsize=7.2, va='center')
fig.text(fx(449), fy(691), "Copyright 2024 Meteociel.fr", fontsize=8.2, weight='bold', va='center')

fig.savefig("out.png", dpi=100)
